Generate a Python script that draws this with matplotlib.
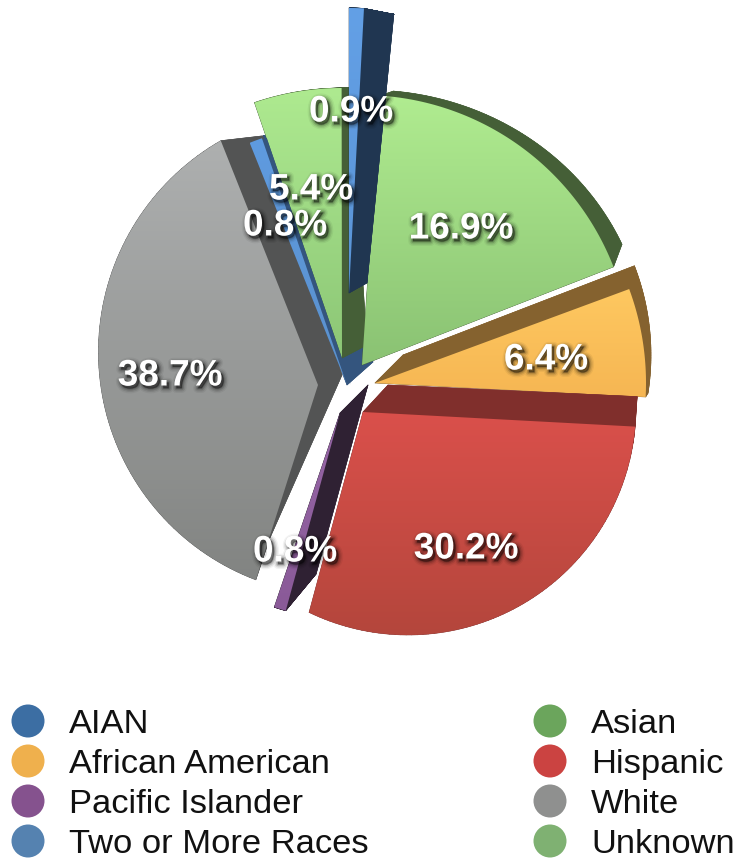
import numpy as np
import matplotlib
matplotlib.use("Agg")
import matplotlib.pyplot as plt
import matplotlib.patheffects as pe
from matplotlib.collections import PolyCollection
from matplotlib.colors import to_rgb
from matplotlib.patches import Circle, Polygon

categories = ["AIAN", "Asian", "African American", "Hispanic",
              "Pacific Islander", "White", "Two or More Races", "Unknown"]
values = [0.9, 16.9, 6.4, 30.2, 0.8, 38.7, 0.8, 5.4]
legend_left = ["AIAN", "African American", "Pacific Islander", "Two or More Races"]
legend_right = ["Asian", "Hispanic", "White", "Unknown"]

legend_colors = {"AIAN": "#3c6ea3", "African American": "#efb04d", "Pacific Islander": "#85528e",
                 "Two or More Races": "#5582b0", "Asian": "#6ba55c", "Hispanic": "#cb4341",
                 "White": "#8f908f", "Unknown": "#7fb172"}

# (top colour, bottom colour, side colour)
face_styles = {"AIAN": ("#63a0e6", "#5a94d6", "#203651"),
               "Asian": ("#b0ec90", "#8ac273", "#455f37"),
               "African American": ("#fec860", "#f6b653", "#85622f"),
               "Hispanic": ("#da504b", "#b4463c", "#802f2c"),
               "Pacific Islander": ("#9565a5", "#8a5a98", "#2f2133"),
               "White": ("#aeb0b0", "#828482", "#535454"),
               "Two or More Races": ("#5f9be0", "#5a90cc", "#34557e"),
               "Unknown": ("#aeea90", "#8cc676", "#455f37")}

# layout per slice: apex, arc centre, rx, ry, rotation, angular stretch
front = {"AIAN": ((349, 293), (349, 293), 285, 285, 0, 0.93),
         "Asian": ((362, 365), (362, 365), 270, 270, 0.6, 1.067),
         "African American": ((375, 383), (375, 383), 271, 271, 5.7, 1.01),
         "Hispanic": ((363, 412), (408, 407), 228, 228, 7.9, 1.02),
         "Pacific Islander": ((340, 413), (340, 413), 205, 205, -0.3, 1.17),
         "White": ((318, 385), (342, 352), 243.6, 243.6, 2.2, 0.93),
         "Two or More Races": ((347, 385), (347, 385), 261, 261, 0.4, 1.0),
         "Unknown": ((342, 358), (342, 358), 270, 270, 0.5, 0.97)}
back = {"AIAN": ((367, 283), (367, 283), 270, 270, 5.7, 0.0),
        "Asian": ((368, 350), (368, 350), 278, 260, 2.0, 1.0),
        "African American": ((403, 355), (403, 355), 248, 248, 4.9, 1.3),
        "Hispanic": ((388, 385), (410, 377), 228, 228, 7.9, 0.98),
        "Pacific Islander": ((368, 385), (368, 385), 196, 196, -0.3, 1.17),
        "White": ((342, 375), (400, 335), 242, 242, 14.1, 0.81),
        "Two or More Races": ((373, 362), (373, 362), 251, 251, -3.4, 0.3),
        "Unknown": ((367, 345), (367, 345), 258, 258, -3.8, 1.0)}
# thin visible side of the narrow slice, painted over its neighbour
two_rim = ((351, 385), (351, 385), 261, 261, 0.6, 1.0)
draw_order = ["White", "Unknown", "Two or More Races", "Asian", "AIAN",
              "African American", "Pacific Islander", "Hispanic"]
label_pos = {"AIAN": (351, 112), "Asian": (461, 229), "African American": (546, 360),
             "Hispanic": (466, 549), "Pacific Islander": (295, 552), "White": (170, 376),
             "Two or More Races": (285, 226), "Unknown": (311, 190)}


class SoftShadow(pe.AbstractPathEffect):
    """Dark translucent copy of a glyph path, filled and stroked."""

    def __init__(self, linewidth, alpha, offset=(1.5, -1.9)):
        super().__init__(offset)
        self.linewidth = linewidth
        self.alpha = alpha

    def draw_path(self, renderer, gc, tpath, affine, rgbFace):
        gc0 = renderer.new_gc()
        gc0.copy_properties(gc)
        gc0.set_foreground((0, 0, 0, self.alpha))
        gc0.set_linewidth(self.linewidth)
        renderer.draw_path(gc0, tpath, affine + self._offset_transform(renderer),
                           (0, 0, 0, self.alpha))
        gc0.restore()


plt.rcParams["font.family"] = ["Liberation Sans", "DejaVu Sans"]
fig = plt.figure(figsize=(7.4, 8.59), dpi=100)
ax = fig.add_axes([0, 0, 1, 1])

total = sum(values)
edges = np.concatenate([[0], np.cumsum(values)]) / total * 360
spans = {c: (edges[i], edges[i + 1]) for i, c in enumerate(categories)}
layer = [1.0]


def next_z():
    layer[0] += 0.01
    return layer[0]


def wedge(span, geom, n=80):
    apex, centre, rx, ry, rot, k = geom
    t = np.linspace(span[0], span[1], n)
    a = np.radians(span[0] + rot + k * (t - span[0]))
    x = centre[0] + rx * np.sin(a)
    y = centre[1] - ry * np.cos(a)
    return np.vstack([[apex], np.column_stack([x, y])])


def draw_side(c):
    side = face_styles[c][2]
    F = wedge(spans[c], front[c])
    B = wedge(spans[c], back[c])
    polys = [B]
    m = len(F)
    for i in range(m):
        j = (i + 1) % m
        polys.append(np.array([F[i], F[j], B[j], B[i]]))
    ax.add_collection(PolyCollection(polys, facecolors=side, edgecolors=side,
                                     linewidths=0.4, zorder=next_z()))


def draw_face(c):
    top, bottom, _ = face_styles[c]
    F = wedge(spans[c], front[c])
    grad = np.linspace(0, 1, 256)[:, None, None]
    img = (1 - grad) * np.array(to_rgb(top)) + grad * np.array(to_rgb(bottom))
    x0, y0 = F.min(axis=0)
    x1, y1 = F.max(axis=0)
    im = ax.imshow(img, extent=(x0, x1, y1, y0), aspect="auto", origin="upper", zorder=next_z())
    im.set_clip_path(Polygon(F, closed=True, transform=ax.transData))


draw_side("Two or More Races")
for c in draw_order:
    if c == "Two or More Races":
        rim = wedge(spans[c], two_rim)
        ax.add_patch(Polygon(rim, closed=True, facecolor=face_styles[c][2], edgecolor="none",
                             zorder=next_z()))
    else:
        draw_side(c)
    draw_face(c)

ax.set_xlim(0, 740)
ax.set_ylim(859, 0)
ax.axis("off")

shadow = [SoftShadow(7.0, 0.05), SoftShadow(5.0, 0.09), SoftShadow(3.0, 0.14),
          SoftShadow(1.2, 0.22), pe.Normal()]
for c, v in zip(categories, values):
    x, y = label_pos[c]
    ax.text(x, y, f"{v:.1f}%", color="white", fontsize=26.6, fontweight="bold",
            ha="center", va="center", zorder=10, path_effects=shadow)

for x_marker, x_text, names in [(28, 69, legend_left), (550, 591, legend_right)]:
    for k, name in enumerate(names):
        y = 721 + 40 * k
        ax.add_patch(Circle((x_marker, y), 16.5, facecolor=legend_colors[name],
                            edgecolor="none", zorder=5))
        ax.text(x_text, y, name, fontsize=24.8, color="#111111", ha="left",
                va="center_baseline", zorder=5)

fig.savefig("out.png", dpi=100, facecolor="white")
